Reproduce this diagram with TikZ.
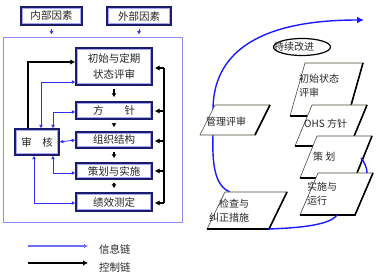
\documentclass[tikz,border=0pt]{standalone}
\usepackage{fontspec}
\setmainfont{Noto Sans CJK SC}
\usetikzlibrary{arrows.meta,shapes.geometric}
\definecolor{navy}{HTML}{1C1C6C}
\definecolor{lblue}{HTML}{A8A8F4}
\definecolor{frameblue}{HTML}{8C8CFF}
\definecolor{infoblue}{HTML}{3030F0}
\definecolor{arcblue}{HTML}{1A1AFF}
\definecolor{pgline}{HTML}{4A4A38}
\begin{document}
\begin{tikzpicture}[x=1pt,y=-1pt,
  font=\fontsize{10.5}{13}\selectfont,
  every node/.style={text=black!85},
  lbox/.style={draw=navy, line width=1.4pt, fill=white, minimum width=76pt, inner sep=0pt, align=center,
    path picture={\draw[lblue, line width=3.4pt] (path picture bounding box.south west) rectangle (path picture bounding box.north east);}},
  info/.style={draw=infoblue, line width=0.8pt},
  itip/.style={-{Latex[length=3.5pt,width=4pt]}},
  ibtip/.style={{Latex[length=3.5pt,width=4pt]}-{Latex[length=3.5pt,width=4pt]}},
  ctrl/.style={draw=black, line width=1.8pt},
  ctip/.style={-{Latex[length=5pt,width=5.5pt]}},
  dtip/.style={-{Latex[length=4pt,width=5pt]}, line width=1.2pt, shorten <=3pt, shorten >=4pt},
  pg/.style={fill=white, draw=pgline, line width=0.6pt, line join=miter},
  pgthick/.style={draw=black, line width=1.6pt},
  arc/.style={draw=arcblue, line width=1.4pt},
  ptext/.style={anchor=west, align=left, font=\fontsize{10}{14}\selectfont, inner sep=0pt}
]
\useasboundingbox (0,0) rectangle (380,275);

% ---------- left panel ----------
\node[draw=frameblue, line width=1pt, minimum width=179pt, minimum height=184pt, inner sep=0pt] (fr) at (92.5,130) {};

\node[lbox, minimum width=61pt, minimum height=18pt] (nb) at (51.5,16) {内部因素};
\node[lbox, minimum width=64pt, minimum height=18pt] (wb) at (139,16) {外部因素};
\draw[info, itip, shorten <=3pt, shorten >=3pt] (nb.south) -- (nb.south |- fr.north);
\draw[info, itip, shorten <=3pt, shorten >=3pt] (wb.south) -- (wb.south |- fr.north);

\node[lbox, minimum height=37pt, font=\fontsize{10.5}{16}\selectfont] (cs) at (114,66.5) {初始与定期\\状态评审};
\node[lbox, minimum height=17pt] (fz) at (114,110.5) {方　　针};
\node[lbox, minimum height=16pt] (zz) at (114,140) {组织结构};
\node[lbox, minimum height=16pt] (ch) at (114,171) {策划与实施};
\node[lbox, minimum height=18pt] (jx) at (114,202) {绩效测定};
\node[lbox, minimum width=44pt, minimum height=26pt] (sh) at (37,142) {审　核};

% control chain down arrows
\draw[ctrl, dtip] (cs.south) -- (fz.north);
\draw[ctrl, dtip] (fz.south) -- (zz.north);
\draw[ctrl, dtip] (zz.south) -- (ch.north);
\draw[ctrl, dtip] (ch.south) -- (jx.north);

% control chain right side
\coordinate (vt) at (164,68);
\coordinate (vb) at (164,203);
\draw[ctrl] (vt) -- (vb);
\draw[ctrl, line width=1.4pt, ctip, shorten >=2pt] (vt |- 0,68) -- (cs.east |- 0,68);
\draw[ctrl, line width=1.4pt, ctip, shorten >=2pt] (vt |- 0,111) -- (fz.east |- 0,111);
\draw[ctrl, line width=1.4pt, ctip, shorten >=2pt] (vt |- 0,141) -- (zz.east |- 0,141);
\draw[ctrl, line width=1.4pt, ctip, shorten >=2pt] (vt |- 0,171) -- (ch.east |- 0,171);
\draw[ctrl, line width=1.4pt, ctip, shorten >=2pt] (vt |- 0,203) -- (jx.east |- 0,203);

% audit control to initial review
\draw[ctrl, ctip] (28,0 |- sh.north) |- (cs.west |- 0,62);

% information chain
\draw[info, ibtip] (cs.west |- 0,82) -| (41,0 |- sh.north);
\draw[info, ibtip] (fz.west |- 0,112) -| (53,0 |- sh.north);
\draw[info, ibtip] (sh.east) -- (zz.west);
\draw[info, ibtip] (53,0 |- sh.south) |- (ch.west |- 0,173);
\draw[info, ibtip] (34,0 |- sh.south) |- (jx.west |- 0,203);

% legend
\coordinate (la1) at (28,246);
\coordinate (la2) at (88,246);
\draw[draw=infoblue!70, line width=1.3pt, -{Latex[length=4pt,width=4.5pt]}] (la1) -- (la2);
\node[anchor=west, inner sep=0pt] (lt1) at (99,249) {信息链};
\coordinate (lb1) at (28,263);
\coordinate (lb2) at (88,263);
\draw[ctrl, ctip] (lb1) -- (lb2);
\node[anchor=west, inner sep=0pt] (lt2) at (99,267) {控制链};

% ---------- right panel ----------
\coordinate (c6top) at (230,192);
\coordinate (c5a) at (213,135);
\coordinate (c5b) at (213,110);
\coordinate (cend) at (364,20);
\draw[arc, -{Latex[length=7pt,width=7pt]}] (c6top) .. controls (215,186) and (212,165) .. (c5a) -- (c5b) .. controls (213,55) and (255,20) .. (cend);

% 管理评审
\filldraw[pg] (215,105) -- (270,105) -- (255,135) -- (200,135) -- cycle;
\draw[pgthick] (270,105) -- (255,135);
\node[ptext] (glps) at (206,122) {管理评审};

% 检查与纠正措施
\filldraw[pg] (225,192) -- (287,192) -- (269,229) -- (207,229) -- cycle;
\draw[pgthick] (287,192) -- (269,229) -- (207,229);
\node[ptext] (jcjz) at (209,211) {\hspace*{10pt}检查与\\纠正措施};

% 初始状态评审
\filldraw[pg] (305,63) -- (363,63) -- (348,116) -- (290,116) -- cycle;
\draw[pgthick] (363,63) -- (348,116) -- (290,116);
\node[ptext] (cszt) at (299,86) {初始状态\\评审};

% OHS 方针
\filldraw[pg] (312,105) -- (367,105) -- (350,146) -- (295,146) -- cycle;
\draw[pgthick] (367,105) -- (350,146) -- (295,146);
\node[ptext] (ohs) at (304,124) {OHS 方针};

% 策划
\filldraw[pg] (317,136) -- (372,136) -- (355,178) -- (300,178) -- cycle;
\draw[pgthick] (372,136) -- (355,178) -- (300,178);
\node[ptext] (ch2) at (313,157) {策 划};

% 实施与运行
\filldraw[pg] (318,173) -- (373,173) -- (355,215) -- (300,215) -- cycle;
\draw[pgthick] (373,173) -- (355,215) -- (300,215);
\node[ptext] (ssyx) at (307,194) {实施与\\运行};

% lower arcs
\coordinate (c6br) at (268,229);
\coordinate (c4b) at (337,215);
\draw[arc] (c6br) .. controls (300,228) and (330,225) .. (c4b);
\coordinate (c3r) at (361,158);
\coordinate (c4t) at (367,173);
\draw[arc] (c3r) .. controls (364,162) and (367,167) .. (c4t);

% 持续改进
\node[ellipse, draw=black, line width=1.2pt, minimum width=57pt, minimum height=17pt, inner sep=0pt] (cxgj) at (302,47) {};
\node[inner sep=0pt, font=\fontsize{10}{12}\selectfont] (cxt) at (294,47) {持续改进};
\end{tikzpicture}
\end{document}
